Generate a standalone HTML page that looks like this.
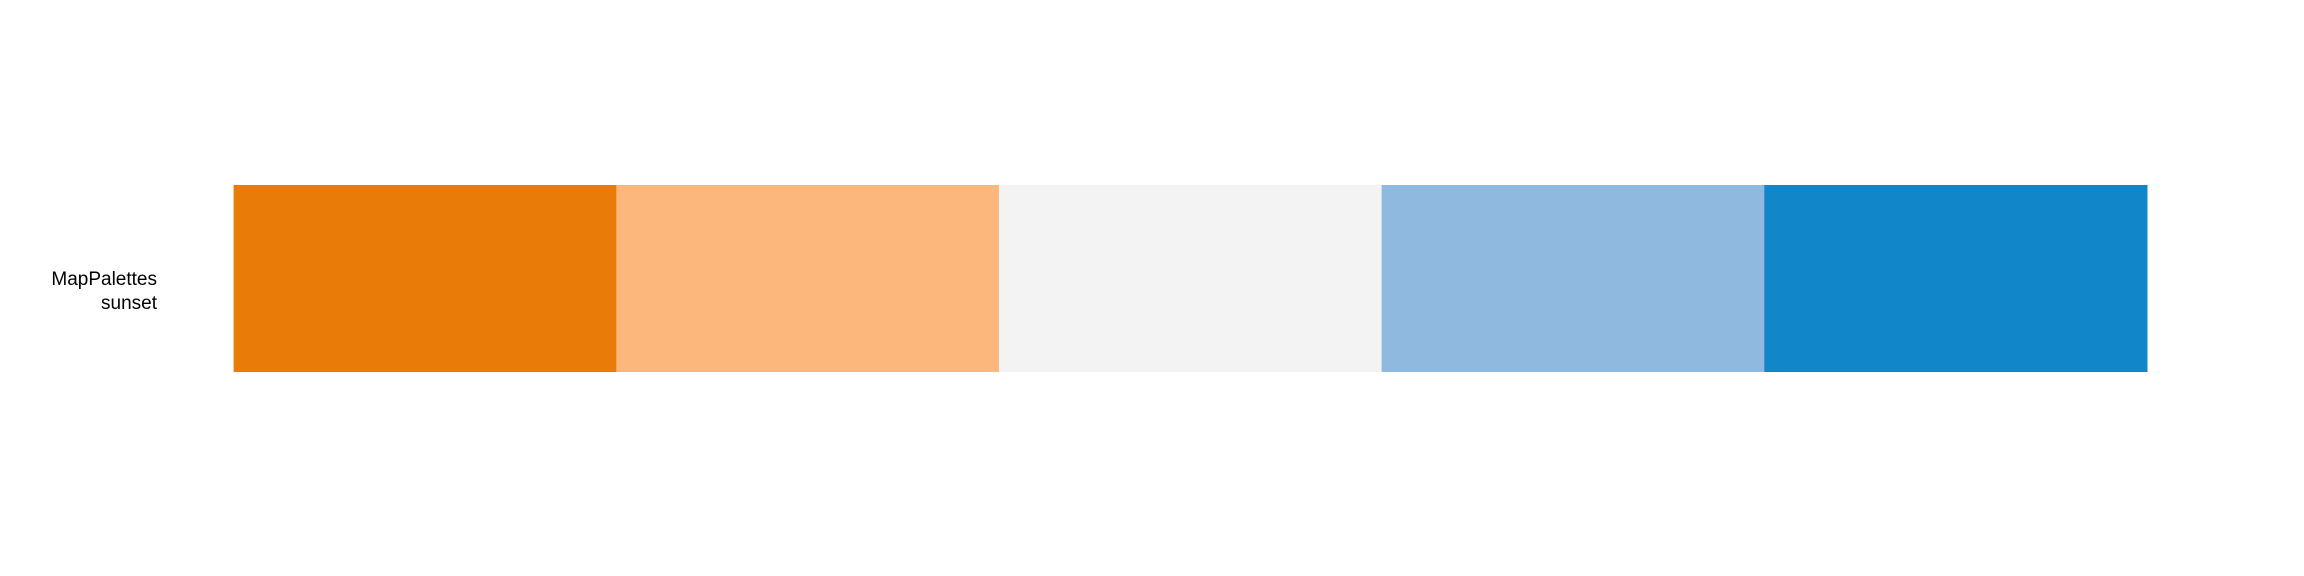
<!DOCTYPE html>
<html><head><meta charset="utf-8"><style>
html,body{margin:0;padding:0;background:#fff;}
svg{display:block;}
text{font-family:"Liberation Sans",Arial,sans-serif;font-size:19px;fill:#000;}
</style></head><body>
<svg id="chart" width="2304" height="576">
<text x="157" y="285" text-anchor="end">MapPalettes</text>
<text x="157" y="309" text-anchor="end">sunset</text>
<g id="swatches"></g>
</svg>
<script>
const colors = ["#E97B09", "#FBB77C", "#F3F3F3", "#8FB9DE", "#1186C8"];
const names = ["swatch-1", "swatch-2", "swatch-3", "swatch-4", "swatch-5"];
const x0 = 233.6, x1 = 2147, y0 = 185, y1 = 372;
const g = document.getElementById('swatches');
const w = (x1 - x0) / colors.length;
colors.forEach((c, i) => {
  const r = document.createElementNS('http://www.w3.org/2000/svg', 'rect');
  r.setAttribute('x', x0 + i * w);
  r.setAttribute('y', y0);
  r.setAttribute('width', w + 0.5);
  r.setAttribute('height', y1 - y0);
  r.setAttribute('fill', c);
  
  
  g.appendChild(r);
});
</script>
</body></html>
